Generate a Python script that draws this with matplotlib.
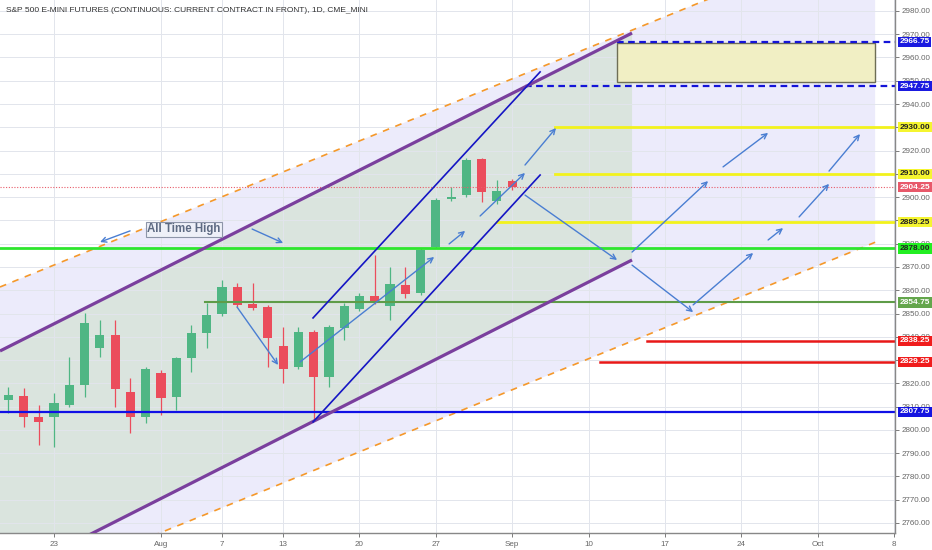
import numpy as np
import matplotlib
matplotlib.use('Agg')
import matplotlib.pyplot as plt
from matplotlib.patches import Rectangle

plt.rcParams['font.family'] = ['Liberation Sans', 'DejaVu Sans']

# daily candles, x = trading-day index (0 = Jul 23)
idx = list(range(-3, 31))
opens = [2812.8, 2814.6, 2805.6, 2805.4, 2810.7, 2819.3, 2835.3, 2840.8, 2816.4, 2805.6,
         2824.6, 2814.3, 2831.0, 2841.8, 2849.7, 2861.2, 2854.0, 2852.9, 2836.0, 2826.9,
         2842.2, 2822.6, 2843.9, 2851.9, 2857.5, 2853.4, 2862.3, 2858.7, 2878.4, 2899.2,
         2900.9, 2916.4, 2898.5, 2907.1]
highs = [2818.4, 2817.9, 2810.7, 2815.8, 2831.2, 2850.1, 2847.2, 2847.2, 2822.2, 2827.0,
         2825.7, 2831.5, 2845.0, 2854.4, 2864.4, 2863.0, 2863.0, 2853.5, 2844.3, 2844.0,
         2842.9, 2845.1, 2854.4, 2858.7, 2875.1, 2870.1, 2870.1, 2878.0, 2899.5, 2904.5,
         2916.7, 2917.0, 2907.4, 2908.0]
lows = [2807.2, 2801.4, 2793.5, 2792.6, 2810.0, 2814.3, 2831.4, 2810.0, 2798.5, 2802.8,
        2806.4, 2808.5, 2825.0, 2835.0, 2849.0, 2853.0, 2851.5, 2827.1, 2820.0, 2826.0,
        2804.2, 2818.5, 2838.6, 2851.0, 2854.0, 2847.2, 2856.5, 2858.0, 2878.0, 2898.5,
        2900.0, 2898.0, 2897.0, 2903.0]
closes = [2815.0, 2805.4, 2803.5, 2811.4, 2819.3, 2845.8, 2840.8, 2817.6, 2805.4, 2826.2,
          2813.8, 2830.8, 2841.5, 2849.4, 2861.3, 2853.7, 2852.5, 2839.3, 2826.3, 2842.2,
          2822.6, 2844.3, 2853.4, 2857.5, 2855.1, 2862.6, 2858.4, 2877.3, 2898.8, 2900.2,
          2916.0, 2902.3, 2902.6, 2904.25]

date_ticks = [0, 7, 11, 15, 20, 25, 30, 35, 40, 45, 50, 55]
date_labels = ['23', 'Aug', '7', '13', '20', '27', 'Sep', '10', '17', '24', 'Oct', '8']

# drawing anchors (bar index, price)
orange_upper = [(-3.54, 2861.4), (53.77, 3014.2)]
orange_lower = [(-3.54, 2727.8), (53.77, 2880.6)]
purple_upper = [(-3.54, 2833.9), (37.85, 2970.5)]
purple_lower = [(-3.54, 2735.5), (37.85, 2873.0)]
blue_upper = [(16.96, 2848.1), (31.83, 2953.8)]
blue_lower = [(16.96, 2803.4), (31.83, 2909.5)]

# horizontal levels: price, start index, line colour, style, width, label bg, label text colour
levels = [
    (2966.75, 36.87, '#1414d8', '--', 1.6, '#1a1ae0', 'white'),
    (2947.75, 30.85, '#1414d8', '--', 1.6, '#1a1ae0', 'white'),
    (2930.00, 32.80, '#f2f21c', '-', 2.0, '#f5f530', '#222222'),
    (2910.00, 32.80, '#f2f21c', '-', 2.0, '#f5f530', '#222222'),
    (2889.25, 29.00, '#f2f21c', '-', 2.0, '#f5f530', '#222222'),
    (2878.00, -4.00, '#2ee62e', '-', 2.0, '#22ee22', '#222222'),
    (2854.75, 9.90, '#5e9c48', '-', 1.5, '#64a64c', 'white'),
    (2838.25, 38.80, '#e81818', '-', 1.8, '#f01c1c', 'white'),
    (2829.25, 35.76, '#e81818', '-', 1.8, '#f01c1c', 'white'),
    (2807.75, -4.00, '#1010e6', '-', 1.6, '#1414e0', 'white'),
]
last_price = 2904.25
target_box = (36.87, 53.77, 2949.3, 2966.4)

arrows = [
    ((4.98, 2885.5), (3.01, 2880.7)),
    ((12.97, 2886.3), (15.0, 2880.3)),
    ((11.98, 2852.8), (14.67, 2827.9)),
    ((16.11, 2829.2), (24.89, 2874.3)),
    ((25.87, 2879.9), (26.92, 2885.5)),
    ((27.9, 2891.9), (30.84, 2910.4)),
    ((30.84, 2913.8), (32.87, 2929.7)),
    ((30.84, 2900.9), (36.87, 2873.0)),
    ((37.85, 2876.4), (42.83, 2906.9)),
    ((37.85, 2870.8), (41.85, 2850.6)),
    ((41.85, 2853.7), (45.78, 2876.0)),
    ((46.76, 2881.6), (47.74, 2886.7)),
    ((48.79, 2891.5), (50.75, 2905.7)),
    ((43.81, 2913.0), (46.76, 2927.6)),
    ((50.75, 2911.2), (52.78, 2927.1)),
]

xmin, xmax = -3.54, 55.07
ymin, ymax = 2755.7, 2984.7

fig = plt.figure(figsize=(9.32, 5.5), dpi=100)
ax = fig.add_axes([0, 17 / 550, 895 / 932, 533 / 550])
ax.set_xlim(xmin, xmax)
ax.set_ylim(ymin, ymax)


def line_y(pts, x):
    (x0, y0), (x1, y1) = pts
    return y0 + (y1 - y0) * (np.asarray(x) - x0) / (x1 - x0)


# lavender channel between orange dashed lines
xs = np.linspace(-6, orange_upper[1][0], 50)
ax.fill_between(xs, line_y(orange_lower, xs), line_y(orange_upper, xs), color='#ecebfb', zorder=0.1, lw=0)
for ch in (orange_upper, orange_lower):
    ax.plot([p[0] for p in ch], [p[1] for p in ch], color='#f5982a', lw=1.2, dashes=(4, 4), zorder=1.2)

# purple channel with grey-green fill
xs = np.linspace(-6, purple_upper[1][0], 50)
ax.fill_between(xs, line_y(purple_lower, xs), line_y(purple_upper, xs), color='#dae4de', zorder=0.2, lw=0)

# grid
for t in date_ticks:
    ax.axvline(t, color='#e2e5ec', lw=0.7, zorder=0.3)
for p in np.arange(2760, 2990, 10):
    ax.axhline(p, color='#e2e5ec', lw=0.7, zorder=0.3)

for ch in (purple_upper, purple_lower):
    ax.plot([p[0] for p in ch], [p[1] for p in ch], color='#7a3f9d', lw=2.3, zorder=3, solid_capstyle='butt')

# target box
x0, x1, y0, y1 = target_box
ax.add_patch(Rectangle((x0, y0), x1 - x0, y1 - y0, facecolor='#f1efc4', edgecolor='#6e6e55', lw=1.0, zorder=1))

# candles
up_c, dn_c = '#4fb684', '#eb4d5c'
for i, o, h, l, c in zip(idx, opens, highs, lows, closes):
    col = up_c if c >= o else dn_c
    ax.vlines(i, l, h, color=col, lw=0.9, zorder=2)
    ax.bar(i, max(abs(c - o), 0.9), bottom=min(o, c), width=0.6, color=col, zorder=2.1, lw=0)

# horizontal levels
yt = ax.get_yaxis_transform()
for price, start, col, ls, lw, bg, fg in levels:
    if ls == '--':
        ax.plot([start, xmax], [price, price], color=col, lw=lw, dashes=(3, 2), zorder=2.5)
    else:
        ax.plot([start, xmax], [price, price], color=col, lw=lw, zorder=2.5)
    ax.text(1.005, price, f'{price:.2f}', transform=yt, ha='left', va='center', fontsize=6.0,
            color=fg, fontweight='bold', clip_on=False, zorder=6,
            bbox=dict(boxstyle='square,pad=0.2', facecolor=bg, edgecolor='none'))

ax.axhline(last_price, color='#e85c6a', lw=0.8, ls=(0, (1, 1.5)), zorder=2.4)
ax.text(1.005, last_price, f'{last_price:.2f}', transform=yt, ha='left', va='center', fontsize=6.0,
        color='white', fontweight='bold', clip_on=False, zorder=6,
        bbox=dict(boxstyle='square,pad=0.2', facecolor='#e8596a', edgecolor='none'))

# blue channel lines
for ch in (blue_upper, blue_lower):
    ax.plot([p[0] for p in ch], [p[1] for p in ch], color='#1515c4', lw=1.2, zorder=3)

# arrows
for start, end in arrows:
    ax.annotate('', xy=end, xytext=start, zorder=4,
                arrowprops=dict(arrowstyle='->', color='#4a7ed2', lw=1.0, mutation_scale=9,
                                shrinkA=0, shrinkB=0))

ax.text(8.51, 2886.1, 'All Time High', ha='center', va='center', fontsize=8.3, fontweight='bold',
        color='#5d6a82', zorder=5,
        bbox=dict(boxstyle='square,pad=0.15', facecolor='#eef0f8', edgecolor='#8d95a8', lw=0.8))

fig.text(6 / 932, 1 - 11 / 550, 'S&P 500 E-MINI FUTURES (CONTINUOUS: CURRENT CONTRACT IN FRONT), 1D, CME_MINI',
         ha='left', va='center', fontsize=6.0, color='#333333')

# axes styling
ax.yaxis.tick_right()
ax.set_yticks(np.arange(2760, 2990, 10))
ax.set_yticklabels([f'{v:.2f}' for v in np.arange(2760, 2990, 10)])
ax.set_xticks(date_ticks)
ax.set_xticklabels(date_labels)
ax.tick_params(axis='y', labelsize=5.8, colors='#666666', length=3, pad=2, width=0.6)
ax.tick_params(axis='x', labelsize=5.8, colors='#666666', length=3, pad=3, width=0.6)
for s in ['top', 'left']:
    ax.spines[s].set_visible(False)
for s in ['right', 'bottom']:
    ax.spines[s].set_color('#888888')
    ax.spines[s].set_linewidth(1.0)

fig.savefig('out.png', dpi=100, facecolor='white')
